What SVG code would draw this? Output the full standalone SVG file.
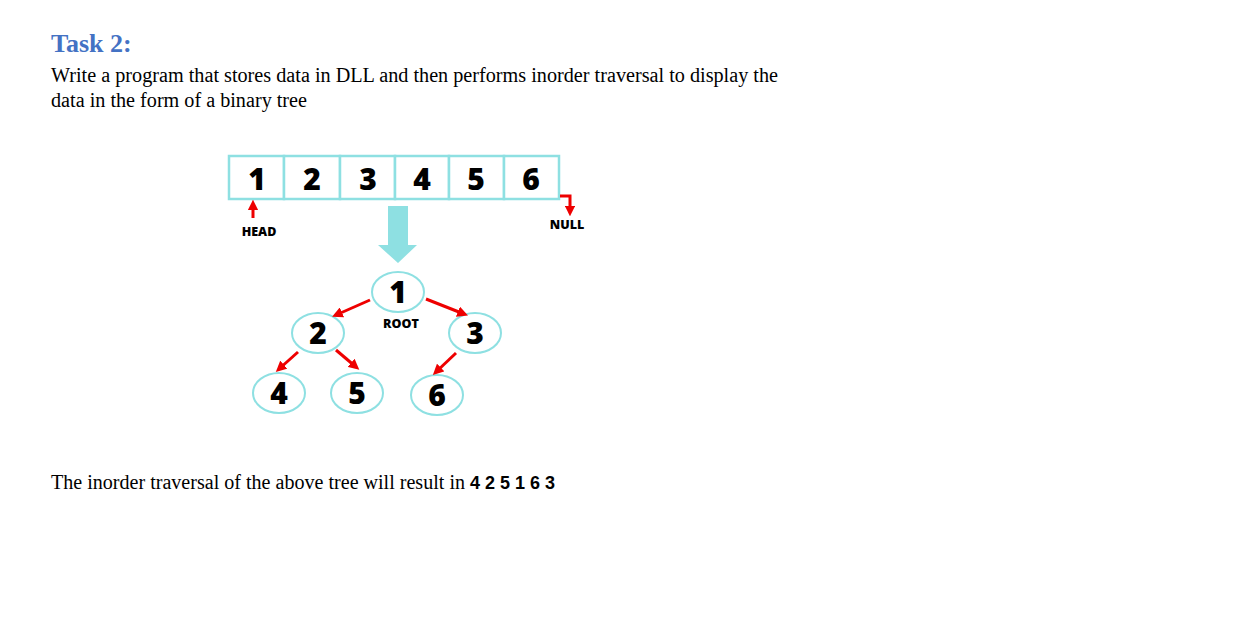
<svg xmlns="http://www.w3.org/2000/svg" width="1258" height="628" viewBox="0 0 1258 628">
<style>
.t{font-family:"Liberation Serif",serif;font-size:20px;fill:#000}
.cell{fill:#fff;stroke:#8ee0e2;stroke-width:2.5}
.num{font-family:"Open Sans","DejaVu Sans",sans-serif;font-weight:800;font-size:30px;fill:#000;text-anchor:middle}
.lab{font-family:"Open Sans","DejaVu Sans",sans-serif;font-weight:800;font-size:12.5px;fill:#000;text-anchor:middle}
.node{fill:#fff;stroke:#8ee0e2;stroke-width:2}
.ar{stroke:#e00;stroke-width:3;fill:none;marker-end:url(#ah)}
</style>
<defs><marker id="ah" viewBox="0 0 10 10" refX="6" refY="5" markerWidth="3.6" markerHeight="3.6" orient="auto"><path d="M0,0L10,5L0,10z" fill="#e00"/></marker></defs>
<rect width="1258" height="628" fill="#fff"/>
<text x="51" y="52" font-family="Liberation Serif,serif" font-weight="bold" font-size="26" fill="#4472c4">Task 2:</text>
<text class="t" x="51" y="82" textLength="727" lengthAdjust="spacingAndGlyphs">Write a program that stores data in DLL and then performs inorder traversal to display the</text>
<text class="t" x="51" y="107" textLength="256" lengthAdjust="spacingAndGlyphs">data in the form of a binary tree</text>
<g id="array">
<rect class="cell" x="229" y="156" width="55" height="43"/>
<rect class="cell" x="284" y="156" width="56" height="43"/>
<rect class="cell" x="340" y="156" width="55" height="43"/>
<rect class="cell" x="395" y="156" width="54" height="43"/>
<rect class="cell" x="449" y="156" width="55" height="43"/>
<rect class="cell" x="504" y="156" width="55" height="43"/>
<text class="num" x="257" y="190">1</text><text class="num" x="312" y="190">2</text><text class="num" x="368" y="190">3</text><text class="num" x="422" y="190">4</text><text class="num" x="476" y="190">5</text><text class="num" x="531" y="190">6</text>
</g>
<g id="head"><text class="lab" x="259" y="236">HEAD</text></g>
<g id="null"><text class="lab" x="567" y="229">NULL</text></g>
<g id="bigarrow"><path d="M388,206H408V245H417L398,263L378,245H388Z" fill="#8ee0e2"/></g>
<g id="n1"><ellipse class="node" cx="398" cy="292" rx="26" ry="20"/><text class="num" x="398" y="303">1</text><text class="lab" x="401" y="328">ROOT</text></g>
<g id="n2"><ellipse class="node" cx="318" cy="333" rx="26" ry="20"/><text class="num" x="318" y="344">2</text></g>
<g id="n3"><ellipse class="node" cx="475" cy="333" rx="26" ry="20"/><text class="num" x="475" y="344">3</text></g>
<g id="n4"><ellipse class="node" cx="279" cy="393" rx="26" ry="20"/><text class="num" x="279" y="404">4</text></g>
<g id="n5"><ellipse class="node" cx="357" cy="393" rx="26" ry="20"/><text class="num" x="357" y="404">5</text></g>
<g id="n6"><ellipse class="node" cx="437" cy="395" rx="26" ry="20"/><text class="num" x="437" y="406">6</text></g>
<g id="connectors">
<path class="ar" d="M253,218V204"/>
<path class="ar" d="M560,196H570V212"/>
<path class="ar" d="M370,300L336,315"/>
<path class="ar" d="M426,299L464,314"/>
<path class="ar" d="M298,352L279,369"/>
<path class="ar" d="M336,350L356,367"/>
<path class="ar" d="M456,353L436,372"/>
</g>
<text class="t" x="51" y="489"><tspan textLength="414" lengthAdjust="spacingAndGlyphs">The inorder traversal of the above tree will result in</tspan> <tspan font-family="Liberation Sans,sans-serif" font-weight="bold" font-size="18">4 2 5 1 6 3</tspan></text>
</svg>
